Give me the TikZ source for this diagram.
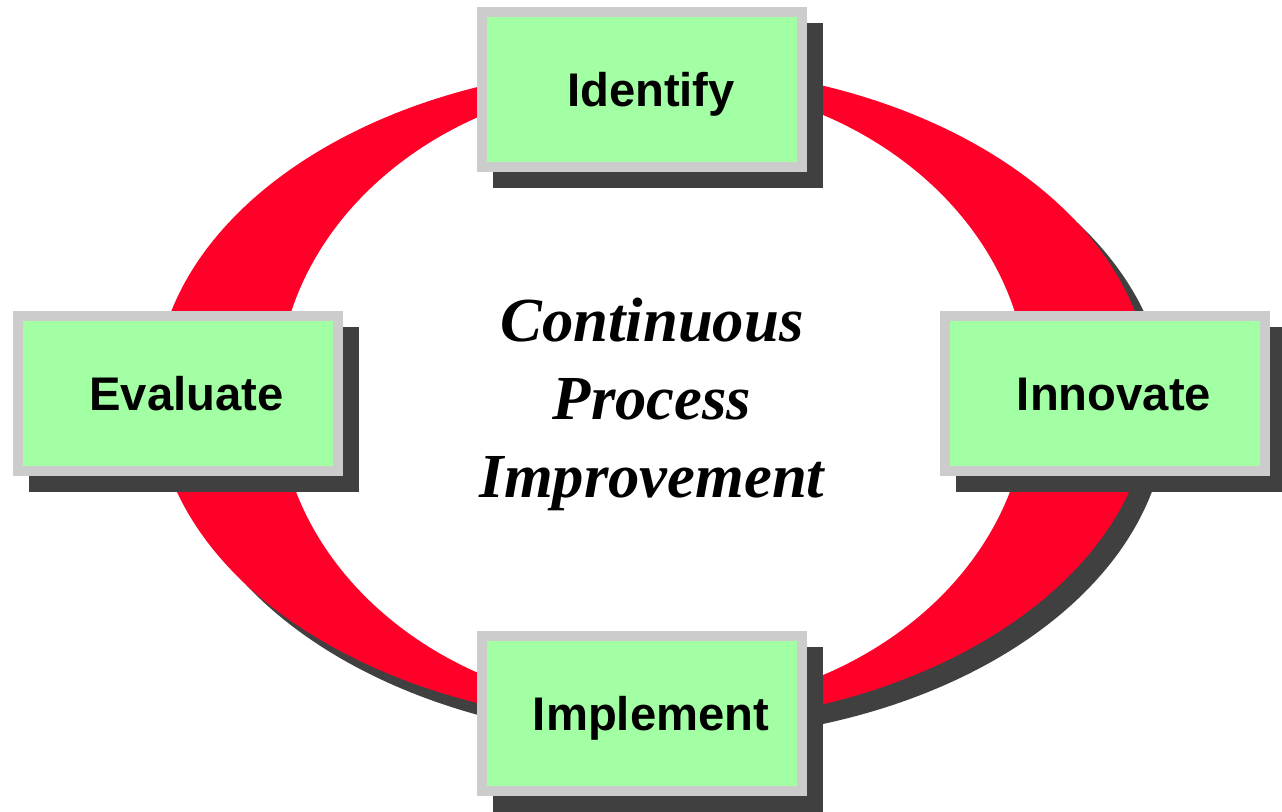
\documentclass[tikz,border=0pt]{standalone}
\usepackage{fontspec}
\setmainfont{Liberation Serif}
\setsansfont{Liberation Sans}
\usepackage{xcolor}

\definecolor{ringred}{HTML}{FF0029}
\definecolor{stagegreen}{HTML}{A3FFA3}
\definecolor{framegray}{HTML}{CCCCCC}
\definecolor{shadowgray}{HTML}{404040}

\begin{document}
\begin{tikzpicture}[x=0.75pt,y=0.75pt,
  stage/.style={fill=stagegreen, draw=framegray, line width=7.5pt,
    minimum width=240pt, minimum height=116.25pt, inner sep=0pt,
    font=\fontsize{35.4}{42}\selectfont\sffamily\bfseries,
    text height=25.4pt, text depth=0pt,
    execute at begin node={\hspace*{13.5pt}},
    preaction={fill=shadowgray, draw=shadowgray, line width=7.5pt,
      transform canvas={shift={(12pt,-12pt)}}}},
  title/.style={font=\fontsize{47}{58.5}\selectfont\rmfamily\bfseries\itshape, align=center}]
\useasboundingbox (0,0) rectangle (1282,811);

% Ring
\coordinate (hub) at (653,416);
\fill[shadowgray] ([shift={(12pt,-12pt)}]hub) ellipse [x radius=373.5pt, y radius=246.75pt];
\fill[ringred] (hub) ellipse [x radius=373.5pt, y radius=246.75pt];
\fill[white] (hub) ellipse [x radius=281.25pt, y radius=235.5pt];

% Centre text
\node[title] (cpi) at (652,407) {Continuous\\Process\\Improvement};

% Stages
\node[stage] (identify) at (642,721.5) {Identify};
\node[stage] (innovate) at (1105,417.5) {Innovate};
\node[stage] (implement) at (642,97.5) {Implement};
\node[stage] (evaluate) at (177.5,417.5) {Evaluate};

\end{tikzpicture}
\end{document}
